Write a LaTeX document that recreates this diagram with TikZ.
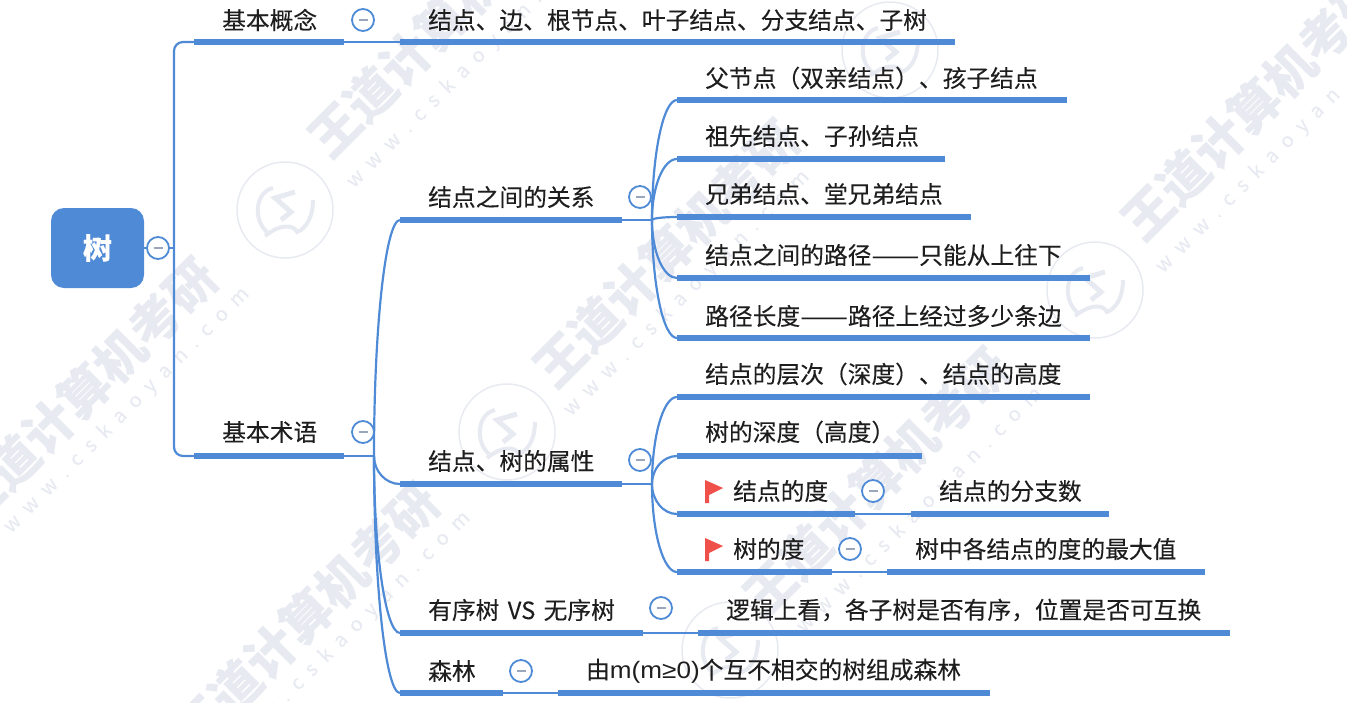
\documentclass[tikz,border=0pt]{standalone}
\usepackage{fontspec}
\setmainfont{Noto Sans CJK SC}[FakeBold=0.15]
\newfontfamily\latinfont{Liberation Sans}
\usetikzlibrary{positioning,calc}
\definecolor{branch}{HTML}{4F8AD6}
\definecolor{ink}{HTML}{1E1E1E}
\definecolor{minus}{HTML}{9AA6BC}
\definecolor{wmark}{HTML}{E8EAF2}
\definecolor{flagred}{HTML}{F0504A}
\newcommand\longdash{\scalebox{1.2}[1]{——}}
\newcommand\wgap{\hskip 10pt}

\begin{document}
\begin{tikzpicture}[
  x=1pt, y=-1pt,
  bar/.style={fill=branch, inner sep=0pt, minimum height=6pt, anchor=west, minimum width=#1 pt},
  lbl/.style={anchor=west, inner sep=0pt, text=ink, font=\fontsize{23.75}{26}\selectfont},
  fold/.style={circle, draw=branch, fill=white, line width=1.8pt, minimum size=22pt, inner sep=0pt},
  conn/.style={draw=branch, line width=2.2pt},
  water/.style={rotate=45, anchor=west, inner sep=0pt, text=wmark, font=\fontsize{50}{52}\selectfont\bfseries},
  site/.style={rotate=45, anchor=west, inner sep=0pt, text=wmark, font=\fontsize{20}{24}\selectfont}
]
  \useasboundingbox (0,0) rectangle (1347,702);

  % watermark
  \foreach \wx/\wy/\ux/\uy in {-40/515/7/530, 182/740/228/754, 317/147/350/185,
      542/377/567/413, 752/605/800/630, 1130/230/1159/270} {
    \node[water] at (\wx,\wy) {王道计算机考研};
    \node[site] at (\ux,\uy) {w\wgap w\wgap w\wgap .\wgap c\wgap s\wgap k\wgap a\wgap o\wgap y\wgap a\wgap n\wgap .\wgap c\wgap o\wgap m};
  }
  \foreach \sx/\sy in {285/210, 507/432, 1095/290, 730/650, 890/50} {
    \begin{scope}[shift={(\sx,\sy)}]
      \draw[wmark, line width=1.5pt] (0,0) circle (48);
      \draw[wmark, line width=4pt] (-12,-22) .. controls (-30,-18) and (-32,10) .. (-18,22);
      \draw[wmark, line width=5pt] (10,-18) -- (-10,-12) -- (6,2) -- (-4,10);
      \draw[wmark, line width=4pt] (-20,26) .. controls (-5,14) and (8,14) .. (12,22) .. controls (22,18) and (28,6) .. (28,-10);
    \end{scope}
  }

  % root
  \node[fill=branch, rounded corners=13pt, minimum width=93pt, minimum height=80pt, inner sep=0pt,
        text=white, font=\fontsize{29}{30}\selectfont\bfseries] (root) at (97.5,248) {\raisebox{-2pt}{树}};
  \coordinate (trunk) at (174,248);

  % bars
  \node[bar=150] (gainian)  at (194,42)  {};
  \node[bar=555] (gainianA) at (400,42)  {};
  \node[bar=150] (shuyu)    at (194,456) {};
  \node[bar=222] (guanxi)   at (400,220) {};
  \node[bar=222] (shuxing)  at (400,484) {};
  \node[bar=243] (youxu)    at (400,633) {};
  \node[bar=532] (youxuA)   at (698,633) {};
  \node[bar=103] (senlin)   at (400,693) {};
  \node[bar=432] (senlinA)  at (558,693) {};
  \node[bar=390] (fujie)    at (677,100) {};
  \node[bar=268] (zuxian)   at (677,159) {};
  \node[bar=294] (xiongdi)  at (677,217) {};
  \node[bar=413] (lujing)   at (677,278) {};
  \node[bar=413] (changdu)  at (677,338) {};
  \node[bar=413] (cengci)   at (677,397) {};
  \node[bar=245] (shendu)   at (677,456) {};
  \node[bar=178] (jiedu)    at (677,514) {};
  \node[bar=198] (jieduA)   at (911,514) {};
  \node[bar=155] (shudu)    at (677,572) {};
  \node[bar=318] (shuduA)   at (887,572) {};

  \coordinate (fanA) at (374,456);
  \coordinate (fanB) at (652,220);
  \coordinate (fanC) at (652,484);

  % connectors
  \draw[conn] (root.east) -- (trunk);
  \draw[conn, rounded corners=9pt] (gainian.west) -| (trunk) |- (shuyu.west);
  \draw[conn] (gainian.east) -- (gainianA.west);
  \draw[conn] (shuyu.east) -- (fanA);
  \draw[conn] (guanxi.east) -- (fanB);
  \draw[conn] (shuxing.east) -- (fanC);
  \draw[conn] (youxu.east) -- (youxuA.west);
  \draw[conn] (senlin.east) -- (senlinA.west);
  \draw[conn] (jiedu.east) -- (jieduA.west);
  \draw[conn] (shudu.east) -- (shuduA.west);
  \foreach \t in {guanxi,shuxing,youxu,senlin}
    \draw[conn] (fanA) .. controls ($(fanA)!.55!(fanA |- \t.west)$) and ($(\t.west)!.55!(fanA |- \t.west)$) .. (\t.west);
  \foreach \t in {fujie,zuxian,xiongdi,lujing,changdu}
    \draw[conn] (fanB) .. controls ($(fanB)!.55!(fanB |- \t.west)$) and ($(\t.west)!.55!(fanB |- \t.west)$) .. (\t.west);
  \foreach \t in {cengci,shendu,jiedu,shudu}
    \draw[conn] (fanC) .. controls ($(fanC)!.55!(fanC |- \t.west)$) and ($(\t.west)!.55!(fanC |- \t.west)$) .. (\t.west);

  % labels
  \node[lbl] (tGainian)  at (222,20)  {基本概念};
  \node[lbl] (tGainianA) at (428,20)  {结点、边、根节点、叶子结点、分支结点、子树};
  \node[lbl] (tShuyu)    at (222,432) {基本术语};
  \node[lbl] (tGuanxi)   at (428,197) {结点之间的关系};
  \node[lbl] (tShuxing)  at (428,461) {结点、树的属性};
  \node[lbl] (tYouxu)    at (428,610) {有序树\hskip 3pt{} VS \hskip 3pt{}无序树};
  \node[lbl] (tYouxuA)   at (726,610) {逻辑上看，各子树是否有序，位置是否可互换};
  \node[lbl] (tSenlin)   at (428,671) {森林};
  \node[lbl] (tSenlinA)  at (586,671) {由\scalebox{1.1}[1]{\latinfont m(m≥0)}个互不相交的树组成森林};
  \node[lbl] (tFujie)    at (705,78)  {父节点（双亲结点）、孩子结点};
  \node[lbl] (tZuxian)   at (705,136) {祖先结点、子孙结点};
  \node[lbl] (tXiongdi)  at (705,194) {兄弟结点、堂兄弟结点};
  \node[lbl] (tLujing)   at (705,255) {结点之间的路径\longdash 只能从上往下};
  \node[lbl] (tChangdu)  at (705,316) {路径长度\longdash 路径上经过多少条边};
  \node[lbl] (tCengci)   at (705,374) {结点的层次（深度）、结点的高度};
  \node[lbl] (tShendu)   at (705,432) {树的深度（高度）};
  \node[lbl] (tJiedu)    at (733,491) {结点的度};
  \node[lbl] (tJieduA)   at (939,491) {结点的分支数};
  \node[lbl] (tShudu)    at (733,549) {树的度};
  \node[lbl] (tShuduA)   at (915,549) {树中各结点的度的最大值};

  % flags
  \foreach \fy in {480,538}
    \fill[flagred] (705,\fy) -- (723,\fy+8) -- (709,\fy+15) -- (709,\fy+23) -- (705,\fy+23) -- cycle;

  % fold buttons
  \foreach \cx/\cy/\cname in {158/248/cRoot, 363/20/cGainian, 363/432/cShuyu, 640/197/cGuanxi,
      640/460/cShuxing, 873/491/cJiedu, 850/549/cShudu, 661/608/cYouxu, 521/671/cSenlin}
    \node[fold] (\cname) at (\cx,\cy) {\textcolor{minus}{\rule{9pt}{2pt}}};
\end{tikzpicture}
\end{document}
